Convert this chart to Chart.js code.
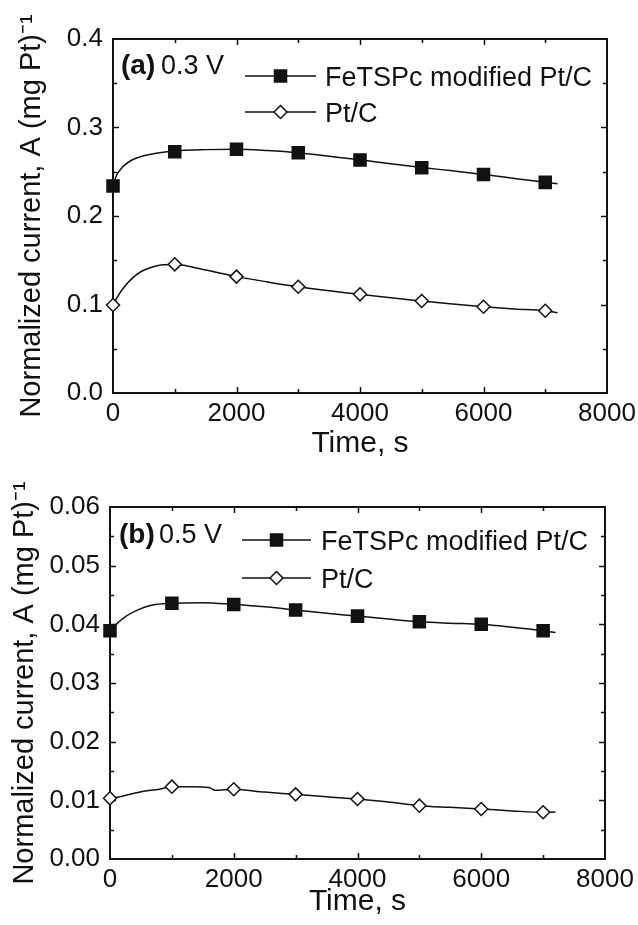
<!DOCTYPE html>
<html>
<head>
<meta charset="utf-8">
<script src="https://cdn.jsdelivr.net/npm/chart.js@4.4.1/dist/chart.umd.min.js"></script>
<style>
  html, body { margin: 0; padding: 0; background: #fff; }
  #wrap { position: relative; width: 638px; height: 925px; }
  .panel { position: absolute; left: 0; width: 638px; }
  #panel-a { top: 0; height: 462px; }
  #panel-b { top: 462px; height: 463px; }
</style>
</head>
<body>
<div id="wrap">
  <div class="panel" id="panel-a"><canvas id="chart-a"></canvas></div>
  <div class="panel" id="panel-b"><canvas id="chart-b"></canvas></div>
</div>
<script>
const FONT = "'Liberation Sans', Arial, Helvetica, sans-serif";
const INK = '#111';

const SERIES = ['FeTSPc modified Pt/C', 'Pt/C'];
const X_TICKS = [0, 2000, 4000, 6000, 8000];
const MARK_TIMES = [0, 1000, 2000, 3000, 4000, 5000, 6000, 7000];

// panel (a), 0.3 V
const A_TAG = ['(a)', '0.3 V'];
const A_Y_TICKS = [0, 0.1, 0.2, 0.3, 0.4];
const A_FE_T = [0, 50, 150, 300, 500, 700, 1000, 1500, 2000, 2500, 3000, 3500, 4000, 4500, 5000, 5500, 6000, 6500, 7000, 7200];
const A_FE_I = [0.234, 0.245, 0.255, 0.263, 0.268, 0.271, 0.2735, 0.275, 0.2755, 0.274, 0.2715, 0.2675, 0.2635, 0.259, 0.2548, 0.251, 0.247, 0.2425, 0.238, 0.2365];
const A_FE_MARKS = [0.234, 0.2727, 0.2753, 0.2715, 0.2633, 0.2546, 0.247, 0.238];
const A_PT_T = [0, 50, 150, 300, 450, 600, 800, 1000, 1500, 2000, 2500, 3000, 3500, 4000, 4500, 5000, 5500, 6000, 6500, 7000, 7200];
const A_PT_I = [0.0994, 0.106, 0.117, 0.129, 0.137, 0.1415, 0.1448, 0.1452, 0.139, 0.1315, 0.1255, 0.1201, 0.1155, 0.1115, 0.1075, 0.104, 0.1005, 0.0975, 0.095, 0.093, 0.0907];
const A_PT_MARKS = [0.0994, 0.1454, 0.1315, 0.1201, 0.1115, 0.104, 0.0975, 0.093];

// panel (b), 0.5 V
const B_TAG = ['(b)', '0.5 V'];
const B_Y_TICKS = [0, 0.01, 0.02, 0.03, 0.04, 0.05, 0.06];
const B_FE_T = [0, 100, 250, 400, 650, 1000, 1500, 2000, 2500, 3000, 3500, 4000, 4500, 5000, 5500, 6000, 6500, 7000, 7200];
const B_FE_I = [0.0389, 0.0400, 0.0413, 0.0422, 0.0432, 0.0436, 0.0437, 0.0434, 0.0430, 0.04244, 0.0419, 0.0414, 0.0409, 0.04045, 0.0402, 0.0400, 0.0395, 0.0389, 0.0386];
const B_FE_MARKS = [0.0389, 0.0436, 0.0434, 0.04244, 0.0414, 0.04045, 0.0400, 0.0389];
const B_PT_T = [0, 200, 500, 800, 1000, 1300, 1600, 1700, 2000, 2500, 3000, 3500, 4000, 4500, 5000, 5500, 6000, 6500, 7000, 7200];
const B_PT_I = [0.01034, 0.0107, 0.01148, 0.0119, 0.01233, 0.0123, 0.0122, 0.0117, 0.01188, 0.0114, 0.01102, 0.0106, 0.01023, 0.0097, 0.00909, 0.0088, 0.00852, 0.0082, 0.00796, 0.0080];
const B_PT_MARKS = [0.01034, 0.01233, 0.01188, 0.01102, 0.01023, 0.00909, 0.00852, 0.00796];

const pts = (xs, ys) => xs.map((x, i) => ({ x, y: ys[i] }));

// box round the plot, with inward ticks on all four sides
const frameTicks = {
    id: 'frameTicks',
    beforeDatasetsDraw(chart, args, o) {
        const { ctx, chartArea: a, scales: { x, y } } = chart;
        ctx.save();
        ctx.strokeStyle = INK;
        ctx.lineWidth = 2;
        ctx.strokeRect(a.left, a.top, a.right - a.left, a.bottom - a.top);
        ctx.lineWidth = 1.5;
        ctx.beginPath();
        const isMajor = (v, step) => Math.abs(v / step - Math.round(v / step)) < 1e-6;
        for (let k = 1; x.min + k * o.xMinor < x.max - 1e-9; k++) {
            const v = x.min + k * o.xMinor;
            const px = Math.round(x.getPixelForValue(v)) + 0.5;
            const len = isMajor(v, o.xMajor) ? 6 : 4;
            ctx.moveTo(px, a.bottom); ctx.lineTo(px, a.bottom - len);
            ctx.moveTo(px, a.top); ctx.lineTo(px, a.top + len);
        }
        for (let k = 1; y.min + k * o.yMinor < y.max - 1e-9; k++) {
            const v = y.min + k * o.yMinor;
            const py = Math.round(y.getPixelForValue(v)) + 0.5;
            const len = isMajor(v, o.yMajor) ? 6 : 4;
            ctx.moveTo(a.left, py); ctx.lineTo(a.left + len, py);
            ctx.moveTo(a.right, py); ctx.lineTo(a.right - len, py);
        }
        ctx.stroke();
        ctx.restore();
    }
};

function marker(ctx, style, x, y, r, fill) {
    ctx.beginPath();
    if (style === 'rect') {
        const s = Math.SQRT1_2 * r;
        ctx.rect(x - s, y - s, 2 * s, 2 * s);
    } else {
        ctx.moveTo(x - r, y); ctx.lineTo(x, y - r); ctx.lineTo(x + r, y); ctx.lineTo(x, y + r);
        ctx.closePath();
    }
    ctx.fillStyle = fill;
    ctx.fill();
    ctx.stroke();
}

// legend and panel tag drawn inside the plot area
const insetLegend = {
    id: 'insetLegend',
    afterDraw(chart, args, o) {
        const ctx = chart.ctx;
        ctx.save();
        ctx.fillStyle = INK;
        ctx.textBaseline = 'alphabetic';
        ctx.font = `bold 28px ${FONT}`;
        ctx.fillText(o.tag[0], o.tagX, o.tagY);
        ctx.font = `27px ${FONT}`;
        ctx.fillText(o.tag[1], o.tagX2, o.tagY);

        o.rows.forEach((dsIndex, i) => {
            const ds = chart.data.datasets[dsIndex];
            const y = o.rowY[i];
            ctx.strokeStyle = INK;
            ctx.lineWidth = 1.5;
            ctx.beginPath();
            ctx.moveTo(o.lineFrom, y);
            ctx.lineTo(o.lineTo, y);
            ctx.stroke();
            marker(ctx, ds.pointStyle, (o.lineFrom + o.lineTo) / 2, y, ds.pointRadius, ds.pointBackgroundColor);
            ctx.fillStyle = INK;
            ctx.font = `27px ${FONT}`;
            ctx.fillText(ds.label, o.textX, y + 10);
        });
        ctx.restore();
    }
};

function curve(data) {
    return {
        data, showLine: true, pointRadius: 0, borderColor: INK, borderWidth: 1.5,
        cubicInterpolationMode: 'monotone', clip: false, order: 2
    };
}

function marks(label, data, style, radius, fill) {
    return {
        label, data, showLine: false, pointStyle: style, pointRadius: radius,
        pointBackgroundColor: fill, pointBorderColor: INK, pointBorderWidth: 1.5,
        borderWidth: 1.5, clip: false, order: 0
    };
}

function drawPanel(id, p) {
    new Chart(document.getElementById(id), {
        type: 'scatter',
        data: {
            datasets: [
                marks(SERIES[0], pts(MARK_TIMES, p.feMarks), 'rect', 8.5, INK),
                marks(SERIES[1], pts(MARK_TIMES, p.ptMarks), 'rectRot', 6.5, '#fff'),
                curve(pts(p.feT, p.feI)),
                curve(pts(p.ptT, p.ptI))
            ]
        },
        options: {
            responsive: true,
            maintainAspectRatio: false,
            animation: false,
            events: [],
            layout: { padding: { top: p.top, right: p.right, left: 0, bottom: p.bottom } },
            plugins: {
                legend: { display: false },
                tooltip: { enabled: false },
                frameTicks: { xMinor: 1000, xMajor: 2000, yMinor: p.yMinor, yMajor: p.yMajor },
                insetLegend: p.legend
            },
            scales: {
                x: {
                    type: 'linear', min: 0, max: 8000,
                    grid: { display: false, drawTicks: false },
                    border: { display: false },
                    afterBuildTicks: s => { s.ticks = X_TICKS.map(v => ({ value: v })); },
                    ticks: {
                        color: INK, font: { family: FONT, size: 26 }, padding: 5, maxRotation: 0, autoSkip: false,
                        callback: v => String(v)
                    },
                    title: { display: true, text: 'Time, s', color: INK, font: { family: FONT, size: 30 }, padding: { top: 0, bottom: 0 } },
                    afterFit: s => { s.height = p.xHeight; s.paddingLeft = 0; s.paddingRight = 0; }
                },
                y: {
                    type: 'linear', min: p.yTicks[0], max: p.yTicks[p.yTicks.length - 1],
                    grid: { display: false, drawTicks: false },
                    border: { display: false },
                    afterBuildTicks: s => { s.ticks = p.yTicks.map(v => ({ value: v })); },
                    ticks: {
                        color: INK, font: { family: FONT, size: 26 }, padding: 10, autoSkip: false,
                        callback: v => v.toFixed(p.decimals)
                    },
                    title: {
                        display: true, text: 'Normalized current, A (mg Pt)\u207B\u00B9', color: INK,
                        font: { family: FONT, size: 29 }, padding: { top: p.titlePad, bottom: 0 }
                    },
                    afterFit: s => { s.width = p.yWidth; s.paddingTop = 0; s.paddingBottom = 0; }
                }
            }
        },
        plugins: [frameTicks, insetLegend]
    });
}

drawPanel('chart-a', {
    feT: A_FE_T, feI: A_FE_I, feMarks: A_FE_MARKS,
    ptT: A_PT_T, ptI: A_PT_I, ptMarks: A_PT_MARKS,
    yTicks: A_Y_TICKS, decimals: 1, yMinor: 0.05, yMajor: 0.1,
    top: 39, right: 31, bottom: 0, yWidth: 113, xHeight: 69, titlePad: 15,
    legend: {
        tag: A_TAG, tagX: 121, tagX2: 161, tagY: 74,
        rows: [0, 1], rowY: [76, 112], lineFrom: 245, lineTo: 316, textX: 325
    }
});

drawPanel('chart-b', {
    feT: B_FE_T, feI: B_FE_I, feMarks: B_FE_MARKS,
    ptT: B_PT_T, ptI: B_PT_I, ptMarks: B_PT_MARKS,
    yTicks: B_Y_TICKS, decimals: 2, yMinor: 0.005, yMajor: 0.01,
    top: 45, right: 33, bottom: 5, yWidth: 110, xHeight: 61, titlePad: 8,
    legend: {
        tag: B_TAG, tagX: 119, tagX2: 159, tagY: 81,
        rows: [0, 1], rowY: [78, 116], lineFrom: 242, lineTo: 311, textX: 321
    }
});
</script>
</body>
</html>
